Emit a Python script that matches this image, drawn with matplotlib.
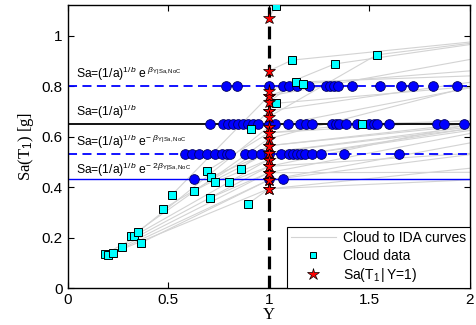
import numpy as np
import matplotlib
matplotlib.use("Agg")
import matplotlib.pyplot as plt
from matplotlib.lines import Line2D

plt.rcParams["font.family"] = ["Liberation Sans", "DejaVu Sans"]
plt.rcParams["mathtext.fontset"] = "custom"
plt.rcParams["mathtext.rm"] = "Liberation Sans"
plt.rcParams["mathtext.it"] = "Liberation Sans:italic"

# Sa levels of the horizontal lines: median, +beta, -beta, -2beta
SA_MED = 0.652
SA_HI = 0.800
SA_LO = 0.531
SA_LO2 = 0.433

# cloud data (Y, Sa)
cloud_Y = [0.185, 0.200, 0.225, 0.270, 0.315, 0.330, 0.349, 0.364, 0.474, 0.518,
           0.628, 0.692, 0.712, 0.732, 0.707, 0.802, 0.861, 0.896, 0.911, 1.035,
           1.135, 1.170, 1.035, 1.115, 1.328, 1.537, 1.462]
cloud_Sa = [0.136, 0.132, 0.140, 0.164, 0.207, 0.207, 0.223, 0.180, 0.314, 0.370,
            0.386, 0.465, 0.441, 0.421, 0.358, 0.421, 0.473, 0.334, 0.631, 0.733,
            0.817, 0.810, 1.119, 0.904, 0.889, 0.925, 0.651]
# Sa where each IDA curve crosses Y=1, and Sa where it leaves the plot on the right
star_Sa = [0.483, 0.429, 0.394, 0.458, 0.593, 0.510, 0.640, 0.429, 0.565, 0.762,
           0.538, 0.616, 0.538, 0.510, 0.458, 0.483, 0.565, 0.394, 0.703, 0.703,
           0.738, 0.762, 1.071, 0.861, 0.782, 0.679, 0.616]
end_Sa = [0.70, 0.62, 0.50, 0.66, 0.86, 0.67, 0.84, 0.56, 0.68, 0.95,
          0.67, 0.68, 0.66, 0.66, 0.46, 0.55, 0.67, 0.44, 0.85, 0.82,
          0.85, 0.88, 1.25, 1.00, 1.00, 1.00, 0.67]
END_Y = 2.3

# IDA curve crossings on each Sa level
Y_hi = [0.787, 0.841, 1.0, 1.070, 1.100, 1.140, 1.199, 1.284, 1.304, 1.323,
        1.343, 1.413, 1.552, 1.657, 1.716, 1.816, 1.936]
Y_med = [0.707, 0.772, 0.797, 0.822, 0.846, 0.871, 0.896, 0.921, 0.946, 1.0,
         1.030, 1.094, 1.154, 1.184, 1.214, 1.313, 1.333, 1.348, 1.383, 1.438,
         1.497, 1.522, 1.537, 1.597, 1.836, 1.871, 1.970]
Y_lo = [0.584, 0.619, 0.653, 0.693, 0.733, 0.768, 0.792, 0.807, 0.882, 0.917,
        0.961, 1.0, 1.060, 1.100, 1.120, 1.140, 1.160, 1.180, 1.214, 1.258,
        1.373, 1.647]
Y_lo2 = [0.629, 1.0, 1.070]

fig = plt.figure(figsize=(4.77, 3.25), dpi=100)
ax = fig.add_axes([0.142, 0.113, 0.843, 0.872])

# cloud to IDA curves
for i in range(len(cloud_Y)):
    pts = sorted([(cloud_Y[i], cloud_Sa[i]), (1.0, star_Sa[i]), (END_Y, end_Sa[i])])
    xs, ys = zip(*pts)
    ax.plot(xs, ys, color="#d3d3d3", lw=0.8, zorder=1)

# Sa levels
ax.axhline(SA_HI, color="#0000ff", lw=1.3, ls=(0, (5, 3)), zorder=2)
ax.axhline(SA_MED, color="k", lw=1.3, zorder=2)
ax.axhline(SA_LO, color="#0000ff", lw=1.3, ls=(0, (5, 3)), zorder=2)
ax.axhline(SA_LO2, color="#0000ff", lw=1.0, zorder=2)

ax.axvline(1.0, color="k", lw=2.3, ls=(0, (4, 2)), zorder=3)

circ = dict(ls="none", marker="o", ms=7, mfc="#0000ff", mec="#000060", mew=0.6, zorder=4)
ax.plot(Y_hi, [SA_HI] * len(Y_hi), **circ)
ax.plot(Y_med, [SA_MED] * len(Y_med), **circ)
ax.plot(Y_lo, [SA_LO] * len(Y_lo), **circ)
ax.plot(Y_lo2, [SA_LO2] * len(Y_lo2), **circ)

ax.plot(cloud_Y, cloud_Sa, ls="none", marker="s", ms=6.3, mfc="#00ffff",
        mec="k", mew=0.7, zorder=5)
ax.plot([1.0] * len(star_Sa), star_Sa, ls="none", marker="*", ms=9.5, mfc="red",
        mec="k", mew=0.5, zorder=6)

sub = r"_{\mathrm{Y|Sa,NoC}}"
lbl_kw = dict(fontsize=8.7, ha="left", va="center", zorder=7)
ax.text(0.042, 0.850, r"Sa=(1/a)$^{1/b}$ e$^{\ \beta" + sub + "}$", **lbl_kw)
ax.text(0.042, 0.697, r"Sa=(1/a)$^{1/b}$", **lbl_kw)
ax.text(0.042, 0.580, r"Sa=(1/a)$^{1/b}$ e$^{-\ \beta" + sub + "}$", **lbl_kw)
ax.text(0.042, 0.469, r"Sa=(1/a)$^{1/b}$ e$^{-\ 2\beta" + sub + "}$", **lbl_kw)

ax.set_xlim(0, 2)
ax.set_ylim(0, 1.123)
ax.set_xticks([0, 0.5, 1, 1.5, 2])
ax.set_xticklabels(["0", "0.5", "1", "1.5", "2"])
ax.set_yticks([0, 0.2, 0.4, 0.6, 0.8, 1])
ax.set_yticklabels(["0", "0.2", "0.4", "0.6", "0.8", "1"])
ax.tick_params(direction="in", top=True, right=True, length=4, labelsize=11, width=0.8)
for s in ax.spines.values():
    s.set_linewidth(1.0)

ax.set_xlabel("Y", family="Liberation Serif", fontsize=12, labelpad=0)
ax.set_ylabel(r"Sa(T$_{\mathrm{1}}$) [g]", family="Liberation Serif", fontsize=12, labelpad=4)

handles = [
    Line2D([], [], color="#d3d3d3", lw=0.8),
    Line2D([], [], ls="none", marker="s", ms=4.5, mfc="#00ffff", mec="k", mew=0.7),
    Line2D([], [], ls="none", marker="*", ms=9, mfc="red", mec="k", mew=0.5),
]
labels = ["Cloud to IDA curves", "Cloud data", r"Sa(T$_1$$\,|\,$Y=1)"]
leg = ax.legend(handles, labels, loc="lower right", fontsize=10, frameon=True,
                fancybox=False, framealpha=1, edgecolor="k", borderaxespad=0,
                handlelength=3.2, borderpad=0.3, labelspacing=0.25, handletextpad=0.5)
leg.get_frame().set_linewidth(0.8)
leg.set_zorder(10)

fig.savefig("out.png", dpi=100)
